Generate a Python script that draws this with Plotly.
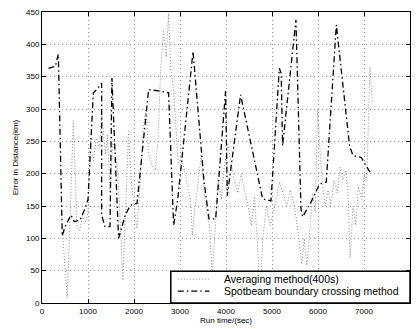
import plotly.graph_objects as go

# Spotbeam boundary crossing method (dash-dot)
spot_x = [140, 290, 355, 440, 500, 630, 700, 826, 935, 1000, 1115, 1188, 1296, 1296, 1370, 1478,
          1520, 1665, 1810, 1920, 2065, 2318, 2535, 2752, 2861, 2950, 3283, 3520, 3630, 3775,
          3991, 4028, 4317, 4796, 4978, 5159, 5200, 5230, 5520, 5630, 5665, 5848, 6035, 6180,
          6398, 6687, 6760, 6941, 7140]
spot_y = [363, 366, 385, 104, 118, 136, 126, 128, 146, 160, 325, 330, 340, 136, 118, 118,
          348, 100, 136, 151, 154, 330, 328, 325, 120, 160, 389, 190, 130, 130,
          328, 166, 322, 161, 158, 363, 355, 243, 438, 146, 133, 156, 184, 187,
          430, 243, 228, 225, 201]

# Averaging method (400s) (dotted)
avg_x = [450, 500, 550, 620, 680, 720, 760, 820, 880, 950, 1000, 1050, 1120, 1180, 1250, 1300,
         1380, 1420, 1480, 1540, 1600, 1650, 1700, 1760, 1820, 1880, 1940, 2000, 2060, 2120,
         2200, 2260, 2320, 2400, 2460, 2520, 2580, 2640, 2700, 2750, 2800, 2860, 2900, 2960,
         3020, 3100, 3160, 3230, 3270, 3330, 3400, 3460, 3520, 3580, 3640, 3700, 3760, 3830,
         3900, 3960, 4040, 4100, 4180, 4260, 4330, 4400, 4480, 4550, 4620, 4680, 4740, 4800,
         4880, 4960, 5020, 5100, 5160, 5240, 5320, 5400, 5470, 5540, 5600, 5650, 5700, 5760,
         5820, 5880, 5940, 5990, 6050, 6100, 6160, 6220, 6280, 6350, 6420, 6480, 6540, 6600,
         6650, 6700, 6760, 6820, 6880, 6950, 7010, 7060, 7130, 7180]
avg_y = [105, 60, 8, 150, 282, 200, 118, 112, 135, 125, 140, 250, 220, 255, 240, 290,
         230, 260, 170, 250, 230, 200, 130, 35, 150, 265, 190, 150, 115, 170,
         270, 300, 230, 212, 205, 250, 360, 420, 380, 448, 360, 330, 280, 215,
         225, 205, 180, 160, 105, 150, 190, 230, 175, 140, 120, 42, 110, 190,
         160, 210, 245, 220, 190, 170, 200, 175, 150, 120, 165, 95, 12, 100,
         150, 120, 136, 165, 187, 170, 150, 175, 155, 125, 90, 60, 100, 58,
         110, 170, 140, 300, 230, 180, 150, 175, 150, 190, 170, 210, 190, 205,
         175, 70, 150, 120, 180, 160, 200, 190, 365, 310]

x_ticks = list(range(0, 8001, 1000))
y_ticks = list(range(0, 451, 50))

names = ["Averaging method(400s)", "Spotbeam boundary crossing method"]

FONT = "Liberation Sans, Arial, sans-serif"
AVG_LINE = dict(color="#8a8a8a", width=1, dash="1px,2px")
SPOT_LINE = dict(color="#000000", width=1.3, dash="6px,3px,1.5px,3px")

fig = go.Figure()
fig.add_trace(go.Scatter(x=avg_x, y=avg_y, mode="lines", name=names[0], line=AVG_LINE))
fig.add_trace(go.Scatter(x=spot_x, y=spot_y, mode="lines", name=names[1], line=SPOT_LINE))

axis_common = dict(showline=True, linecolor="black", linewidth=1, mirror="ticks",
                   ticks="inside", ticklen=4, tickcolor="black",
                   showgrid=True, gridcolor="#9a9a9a", griddash="1px,3px", gridwidth=1,
                   zeroline=False, tickfont=dict(family=FONT, size=8, color="black"))

fig.update_xaxes(range=[0, 8000], tickvals=x_ticks, ticktext=[str(v) for v in x_ticks],
                 title=dict(text="Run time/(sec)", font=dict(family=FONT, size=8, color="black"), standoff=2),
                 **axis_common)
fig.update_yaxes(range=[0, 450], tickvals=y_ticks, ticktext=[str(v) for v in y_ticks],
                 title=dict(text="Error in Distance(km)", font=dict(family=FONT, size=8, color="black"), standoff=6),
                 **axis_common)

# Compact MATLAB-style legend box (paper coordinates)
box = dict(x0=0.35, x1=1.0, y0=0.0, y1=0.109)
rows_y = [0.082, 0.041]
sample_x = (0.369, 0.455)
text_x = 0.488
shapes = [dict(type="rect", xref="paper", yref="paper", x0=box["x0"], x1=box["x1"],
               y0=box["y0"], y1=box["y1"], line=dict(color="black", width=1.5), fillcolor="white",
               layer="above")]
annotations = []
for ry, ln, nm in zip(rows_y, [AVG_LINE, SPOT_LINE], names):
    shapes.append(dict(type="line", xref="paper", yref="paper", x0=sample_x[0], x1=sample_x[1],
                       y0=ry, y1=ry, line=ln, layer="above"))
    annotations.append(dict(xref="paper", yref="paper", x=text_x, y=ry, xanchor="left", yanchor="middle",
                            text=nm, showarrow=False, font=dict(family=FONT, size=10.5, color="black")))

fig.update_layout(
    width=417, height=329,
    margin=dict(l=42, r=6, t=12, b=24),
    paper_bgcolor="white", plot_bgcolor="white",
    showlegend=False,
    shapes=shapes,
    annotations=annotations,
)

fig.write_html("out.html")
